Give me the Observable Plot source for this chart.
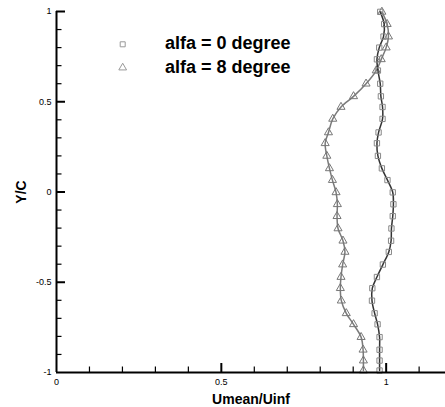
<!DOCTYPE html>
<html><head><meta charset="utf-8">
<script src="https://cdn.jsdelivr.net/npm/d3@7"></script>
<script src="https://cdn.jsdelivr.net/npm/@observablehq/plot@0.6"></script>
<style>
body{margin:0;background:#fff;}
#wrap{position:relative;width:445px;height:407px;font-family:"Liberation Sans",Arial,sans-serif;}
#legend{position:absolute;left:0;top:0;pointer-events:none;}
</style></head><body><div id="wrap"></div>
<script>
// Y/C stations (shared by both series)
const yC = [0.998, 0.930, 0.861, 0.800, 0.735, 0.673, 0.600, 0.530, 0.471, 0.405, 0.330, 0.270, 0.200, 0.131, 0.066, -0.002, -0.068, -0.134, -0.202, -0.270, -0.332, -0.402, -0.471, -0.533, -0.602, -0.672, -0.733, -0.804, -0.874, -0.934, -0.989];
// Umean/Uinf, alfa = 0 degree
const u0 = [0.982, 0.994, 0.992, 0.979, 0.972, 0.975, 0.982, 0.984, 0.989, 0.989, 0.977, 0.972, 0.975, 0.987, 1.004, 1.020, 1.022, 1.020, 1.016, 1.015, 1.008, 0.990, 0.972, 0.958, 0.957, 0.965, 0.974, 0.980, 0.980, 0.980, 0.980];
// Umean/Uinf, alfa = 8 degree
const u8 = [0.987, 1.003, 1.007, 1.000, 0.985, 0.970, 0.939, 0.901, 0.863, 0.838, 0.825, 0.815, 0.820, 0.828, 0.837, 0.848, 0.852, 0.851, 0.854, 0.869, 0.875, 0.868, 0.863, 0.861, 0.864, 0.879, 0.901, 0.924, 0.930, 0.931, 0.931];
const seriesNames = ["alfa = 0 degree", "alfa = 8 degree"];
const xMajor = [0, 0.5, 1];
const xMinor = [0.1, 0.2, 0.3, 0.4, 0.6, 0.7, 0.8, 0.9, 1.1];
const yMajor = [-1, -0.5, 0, 0.5, 1];
const yMinor = [-0.9, -0.8, -0.7, -0.6, -0.4, -0.3, -0.2, -0.1, 0.1, 0.2, 0.3, 0.4, 0.6, 0.7, 0.8, 0.9];
const xMax = 1.18;

const rows0 = yC.map((y, i) => ({y, u: u0[i]}));
const rows8 = yC.map((y, i) => ({y, u: u8[i]}));

const plot = Plot.plot({
  width: 445, height: 407,
  marginLeft: 56, marginRight: 0, marginTop: 11, marginBottom: 35,
  style: {fontFamily: "Liberation Sans, Arial, sans-serif", fontSize: "9px", background: "white", color: "black", overflow: "visible"},
  x: {domain: [0, xMax]},
  y: {domain: [-1, 1]},
  marks: [
    Plot.line(rows8, {x: "u", y: "y", curve: "catmull-rom", stroke: "#7a7a7a", strokeWidth: 1.5}),
    Plot.dot(rows8, {x: "u", y: "y", symbol: "triangle", r: 3, stroke: "#777", strokeWidth: 1, fill: "none"}),
    Plot.line(rows0, {x: "u", y: "y", curve: "catmull-rom", stroke: "#333", strokeWidth: 1.5}),
    Plot.dot(rows0, {x: "u", y: "y", symbol: "square", r: 3, stroke: "#888", strokeWidth: 1, fill: "none"}),
    // axis lines
    Plot.ruleX([0], {stroke: "black", strokeWidth: 2}),
    Plot.ruleY([-1], {stroke: "black", strokeWidth: 2}),
    // inward ticks
    Plot.axisY({ticks: yMajor.filter(d => d !== -1), tickSize: -9, strokeWidth: 2, fill: "none", label: null}),
    Plot.axisY({ticks: yMinor, tickSize: -5.5, strokeWidth: 1.2, fill: "none", label: null}),
    Plot.axisX({ticks: xMajor.filter(d => d !== 0), tickSize: -9, strokeWidth: 2, fill: "none", label: null}),
    Plot.axisX({ticks: xMinor, tickSize: -5.5, strokeWidth: 1.2, fill: "none", label: null}),
    // tick labels
    Plot.axisY({ticks: yMajor, tickSize: 0, tickPadding: 5, tickFormat: d => String(d), fontSize: 9, label: null}),
    Plot.axisX({ticks: xMajor, tickSize: 0, tickPadding: 6, tickFormat: d => String(d), fontSize: 9, label: null}),
    // axis titles
    Plot.axisX({ticks: [], tickSize: 0, label: "Umean/Uinf", labelAnchor: "center", labelArrow: "none", labelOffset: 31, fontSize: 14, fontWeight: "bold"}),
    Plot.axisY({ticks: [], tickSize: 0, label: "Y/C", labelAnchor: "center", labelArrow: "none", labelOffset: 40, fontSize: 14, fontWeight: "bold"})
  ]
});
const wrap = document.getElementById("wrap");
wrap.appendChild(plot);

// legend overlay
const ns = "http://www.w3.org/2000/svg";
const leg = document.createElementNS(ns, "svg");
leg.setAttribute("id", "legend");
leg.setAttribute("width", 445); leg.setAttribute("height", 407);
const entries = [{name: seriesNames[0], sym: "square", cy: 44.3, by: 49.3}, {name: seriesNames[1], sym: "triangle", cy: 67.7, by: 72.7}];
for (const e of entries) {
  const p = document.createElementNS(ns, "path");
  const size = e.sym === "square" ? 25 : 26;
  const sym = e.sym === "square" ? d3.symbolSquare : d3.symbolTriangle;
  p.setAttribute("d", d3.symbol(sym, size)());
  p.setAttribute("transform", `translate(122.7,${e.cy})`);
  p.setAttribute("fill", "none"); p.setAttribute("stroke", "#999"); p.setAttribute("stroke-width", 1);
  leg.appendChild(p);
  const t = document.createElementNS(ns, "text");
  t.setAttribute("x", 165); t.setAttribute("y", e.by);
  t.setAttribute("font-size", 18); t.setAttribute("font-weight", "bold");
  t.setAttribute("font-family", "Liberation Sans, Arial, sans-serif");
  t.textContent = e.name;
  leg.appendChild(t);
}
wrap.appendChild(leg);
</script>
</body></html>
